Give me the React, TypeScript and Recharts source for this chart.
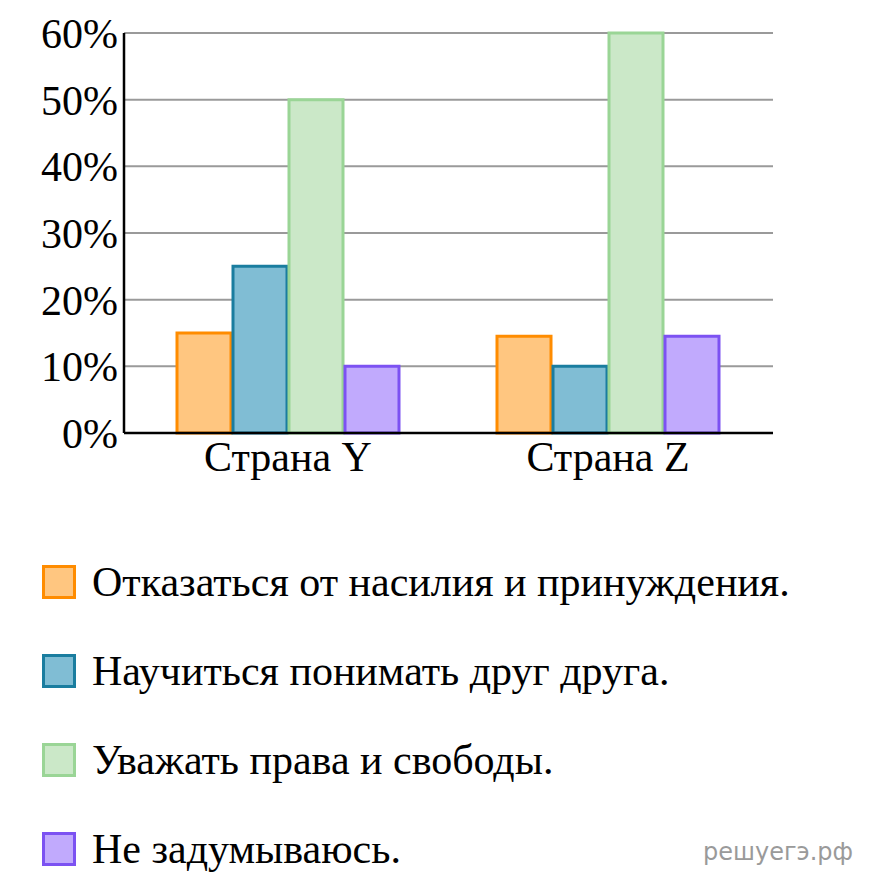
import { BarChart, Bar, XAxis, YAxis, CartesianGrid, Legend } from "recharts";

const countries = ["Страна Y", "Страна Z"];
const violence = [15, 14.5];
const understand = [25, 10];
const rights = [50, 60];
const noThought = [10, 14.5];
const yTicks = [0, 10, 20, 30, 40, 50, 60];

const series = [
  { key: "violence", name: "Отказаться от насилия и принуждения.", fill: "#FFC680", stroke: "#FF8C00" },
  { key: "understand", name: "Научиться понимать друг друга.", fill: "#80BDD4", stroke: "#1A7D9F" },
  { key: "rights", name: "Уважать права и свободы.", fill: "#CBE8C8", stroke: "#9AD596" },
  { key: "noThought", name: "Не задумываюсь.", fill: "#C1AAFD", stroke: "#7C52F2" },
];

const data = countries.map((c, i) => ({
  name: c,
  violence: violence[i],
  understand: understand[i],
  rights: rights[i],
  noThought: noThought[i],
}));

const serif = "Times New Roman, Liberation Serif, Tinos, serif";

function LegendBox() {
  return (
    <div style={{ display: "flex", flexDirection: "column", gap: 55, fontFamily: serif }}>
      {series.map((s) => (
        <div key={s.key} style={{ display: "flex", alignItems: "center", height: 34 }}>
          <div
            style={{
              width: 28,
              height: 28,
              background: s.fill,
              border: `3px solid ${s.stroke}`,
              marginRight: 16,
              flexShrink: 0,
            }}
          />
          <span style={{ fontFamily: serif, fontSize: 42, color: "#000", whiteSpace: "nowrap" }}>
            {s.name}
          </span>
        </div>
      ))}
    </div>
  );
}

export default function App() {
  return (
    <div
      style={{
        position: "absolute",
        left: 0,
        top: 0,
        width: 873,
        height: 884,
        background: "#fff",
        fontFamily: serif,
      }}
    >
      <BarChart
        width={873}
        height={884}
        data={data}
        margin={{ top: 33, right: 100, left: 0, bottom: 391 }}
        barSize={54}
        barGap={2}
        style={{ fontFamily: serif }}
      >
        <CartesianGrid vertical={false} stroke="#9a9a9a" strokeWidth={2} />
        <XAxis
          dataKey="name"
          height={60}
          padding={{ left: 4, right: 5 }}
          axisLine={{ stroke: "#000", strokeWidth: 2.5 }}
          tickLine={false}
          tick={{ fontSize: 42, fill: "#000", fontFamily: serif }}
        />
        <YAxis
          width={124}
          domain={[0, 60]}
          ticks={yTicks}
          interval={0}
          tickFormatter={(v) => `${v}%`}
          axisLine={{ stroke: "#000", strokeWidth: 2.5 }}
          tickLine={false}
          tickSize={4}
          tickMargin={2}
          tick={{ fontSize: 42, fill: "#000", fontFamily: serif }}
        />
        {series.map((s) => (
          <Bar
            key={s.key}
            dataKey={s.key}
            name={s.name}
            fill={s.fill}
            stroke={s.stroke}
            strokeWidth={3}
            isAnimationActive={false}
          />
        ))}
        <Legend
          layout="vertical"
          align="center"
          verticalAlign="middle"
          content={() => <LegendBox />}
          wrapperStyle={{ top: 565, left: 42, width: 820, height: 310 }}
        />
      </BarChart>
      <div
        style={{
          position: "absolute",
          left: 703,
          top: 838,
          fontFamily: "DejaVu Sans",
          fontSize: 24,
          color: "#9a9a9a",
        }}
      >
        решуегэ.рф
      </div>
    </div>
  );
}
